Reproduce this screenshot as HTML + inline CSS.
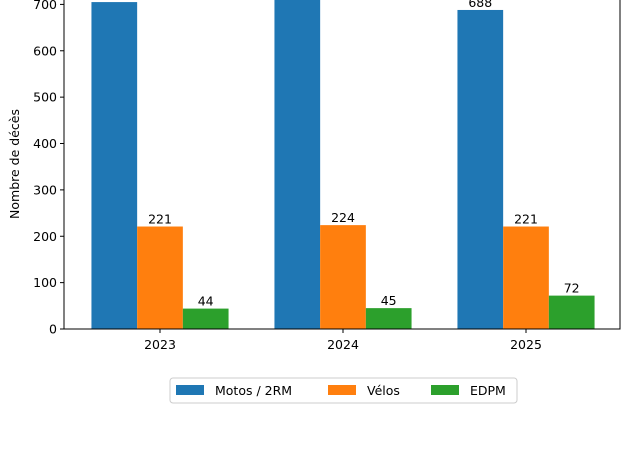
<!DOCTYPE html>
<html><head><meta charset="utf-8"><style>
body{margin:0;background:#fff;width:630px;height:466px;overflow:hidden;font-family:"Liberation Sans","DejaVu Sans",sans-serif;}
</style></head><body>
<svg id="c" width="630" height="466" style="font-family:'DejaVu Sans','Liberation Sans',sans-serif"></svg>
<script>
const years=["2023","2024","2025"];
const motos=[705,760,688];
const velos=[221,224,221];
const edpm=[44,45,72];
const yTicks=[0,100,200,300,400,500,600,700];
const seriesNames=["Motos / 2RM","Vélos","EDPM"];
const colors=["#1f77b4","#ff7f0e","#2ca02c"];
const showLabels=[[false,false,true],[true,true,true],[true,true,true]];
const L=64,R=620,T=-40,B=329;
const k=324.6/700;
const y=v=>B-v*k;
const gx=i=>160+i*183;
const bw=45.7;
const svg=document.getElementById('c');
const NS='http://www.w3.org/2000/svg';
function mk(t,a,p){const e=document.createElementNS(NS,t);for(const q in a)e.setAttribute(q,a[q]);(p||svg).appendChild(e);return e;}
const data=[motos,velos,edpm];
data.forEach((s,si)=>{s.forEach((v,i)=>{
 const x=gx(i)+(si-1)*bw-bw/2;
 const r=mk('rect',{x:x,y:y(v),width:bw,height:B-y(v),fill:colors[si]});
 
 
 if(showLabels[si][i]){const t=mk('text',{x:x+bw/2,y:y(v)-3,'text-anchor':'middle','font-size':12.5,fill:'#000'});t.textContent=v;
 
 }
});});
mk('rect',{x:L,y:T,width:R-L,height:B-T,fill:'none',stroke:'#000','stroke-width':1});
yTicks.forEach(v=>{mk('line',{x1:L-4,x2:L,y1:y(v),y2:y(v),stroke:'#000'});
 const t=mk('text',{x:L-7,y:y(v)+4.5,'text-anchor':'end','font-size':12.5});t.textContent=v;
 
 });
years.forEach((yr,i)=>{mk('line',{x1:gx(i),x2:gx(i),y1:B,y2:B+4,stroke:'#000'});
 const t=mk('text',{x:gx(i),y:B+20,'text-anchor':'middle','font-size':12.5});t.textContent=yr;
 
 });
const yl=mk('text',{x:19,y:164,'text-anchor':'middle','font-size':12.5,transform:'rotate(-90 19 164)'});yl.textContent='Nombre de décès';


const lg=mk('g',{});


mk('rect',{x:170,y:378,width:347,height:25,rx:3,fill:'#fff',stroke:'#ccc'},lg);
const lx=[176,328,431];
seriesNames.forEach((n,i)=>{mk('rect',{x:lx[i],y:385,width:28,height:10,fill:colors[i]},lg);
 const t=mk('text',{x:lx[i]+39,y:395,'font-size':12.5},lg);t.textContent=n;
 
 });
</script>
</body></html>
